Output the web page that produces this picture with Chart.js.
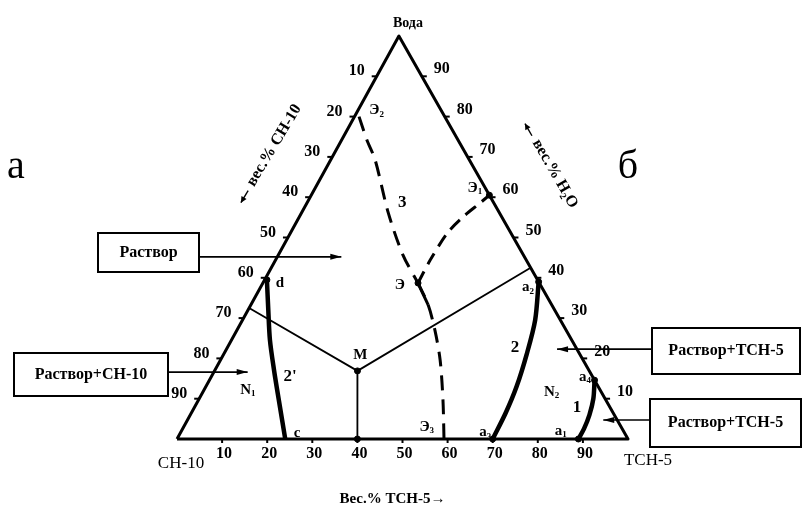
<!DOCTYPE html>
<html>
<head>
<meta charset="utf-8">
<script src="https://cdn.jsdelivr.net/npm/chart.js@4.4.1/dist/chart.umd.min.js"></script>
<style>
  html, body { margin: 0; padding: 0; background: #fff; }
  canvas { display: block; }
</style>
</head>
<body>
<canvas id="chart" width="803" height="510"></canvas>
<script>
// where the water corner sits over the base (% of the base length)
const APEX = 49.2

const tickValues = [10, 20, 30, 40, 50, 60, 70, 80, 90]

// compositions, wt.%: T = ТСН-5, W = вода, СН-10 is the rest
const cornerT = [0, 100, 0, 0]
const cornerW = [0, 0, 100, 0]

// curve 3, Э2 -> Э (dashed)
const e2eT = [1, 5.6, 9.9, 19.1, 27.6, 34.4]
const e2eW = [80, 74.2, 69.2, 56.3, 45.7, 38.7]
// Э -> Э3 (dashed)
const ee3T = [34.4, 39.3, 43.9, 48.7, 54.2, 59.2]
const ee3W = [38.7, 33.3, 27.0, 19.6, 9.7, 0]
// Э -> Э1 (dashed)
const ee1T = [34.4, 34.3, 34.8, 36.3, 38.4, 39.5]
const ee1W = [38.7, 44.4, 51.1, 55.1, 58.6, 60.5]
// curve 2', d -> c
const dcT = [0.5, 4.5, 8.5, 13.1, 17.8, 24]
const dcW = [39.5, 32, 24.6, 17.1, 9.7, 0]
// curve 2, a2 -> a3
const a2a3T = [61, 64.9, 67.2, 68.9, 69.7, 70]
const a2a3W = [39, 29.5, 21, 13, 6.5, 0]
// curve 1, a4 -> a1
const a4a1T = [85.4, 87.4, 88.5, 89.0, 89.0]
const a4a1W = [14.6, 10, 6, 2.5, 0]
// tie lines through M
const tieT = [0, 31.7, 57.5]
const tieW = [32.5, 16.9, 42.5]
const footT = [31.7, 40]
const footW = [16.9, 0]
// marked points: d, M, Э, Э1, a2, a3, a4, a1, foot of M
const markT = [0.5, 31.7, 34.4, 39.5, 61, 70, 85.4, 89.0, 40]
const markW = [39.5, 16.9, 38.7, 60.5, 39, 0, 14.6, 0, 0]

// point and field labels: text, subscript, T, W
const labelText = ['d', 'M', 'Э', 'Э', 'Э', 'Э', 'c', 'a', 'a', 'a', 'a', '1', '2', "2'", '3', 'N', 'N']
const labelSub  = ['', '', '', '1', '2', '3', '', '2', '3', '4', '1', '', '', '', '', '1', '2']
const labelT = [3.8, 30.4, 30.6, 35.4, 4.1, 53.9, 25.9, 59.3, 67.5, 82.9, 84.1, 84.8, 63.7, 17.5, 21.1, 9.7, 77.3]
const labelW = [38.7, 20.8, 38.2, 62.3, 81.6, 3.0, 1.5, 37.7, 1.7, 15.4, 2.0, 7.9, 22.8, 15.4, 58.6, 12.2, 11.7]

// boxes and the composition each arrow points at
const boxText = ['Раствор', 'Раствор+СН-10', 'Раствор+ТСН-5', 'Раствор+ТСН-5']
const arrowT = [14.2, 7.5, 73.3, 92.2]
const arrowW = [45.2, 16.6, 22.3, 4.7]

function toXY(t, w) {
  return { x: t + w * APEX / 100, y: w }
}
function series(ts, ws) {
  return ts.map((t, i) => toXY(t, ws[i]))
}

function lineSet(data, width, dash, tension) {
  return {
    data: data,
    showLine: true,
    borderColor: '#000',
    backgroundColor: '#000',
    borderWidth: width,
    borderDash: dash || [],
    pointRadius: 0,
    tension: tension || 0,
    fill: false,
    clip: false,
    borderCapStyle: 'butt',
    borderJoinStyle: 'round'
  }
}

function seg(c, x1, y1, x2, y2) {
  c.beginPath()
  c.moveTo(x1, y1)
  c.lineTo(x2, y2)
  c.stroke()
}

function arrow(c, x1, y1, x2, y2, len, half) {
  len = len || 11
  half = half || 3
  seg(c, x1, y1, x2, y2)
  let a = Math.atan2(y2 - y1, x2 - x1)
  c.beginPath()
  c.moveTo(x2, y2)
  c.lineTo(x2 - len * Math.cos(a) + half * Math.sin(a), y2 - len * Math.sin(a) - half * Math.cos(a))
  c.lineTo(x2 - len * Math.cos(a) - half * Math.sin(a), y2 - len * Math.sin(a) + half * Math.cos(a))
  c.closePath()
  c.fill()
}

// text with an optional lowered small subscript, centred at x,y
function subText(c, txt, sub, x, y, size) {
  c.font = 'bold ' + size + 'px "Liberation Serif"'
  let w1 = c.measureText(txt).width
  c.font = 'bold ' + Math.round(size * 0.62) + 'px "Liberation Serif"'
  let w2 = sub ? c.measureText(sub).width : 0
  let x0 = x - (w1 + w2) / 2
  c.textAlign = 'left'
  c.textBaseline = 'middle'
  c.font = 'bold ' + size + 'px "Liberation Serif"'
  c.fillText(txt, x0, y)
  if (sub) {
    c.font = 'bold ' + Math.round(size * 0.62) + 'px "Liberation Serif"'
    c.fillText(sub, x0 + w1, y + size * 0.28)
  }
}

// side title turned along an edge, with a drawn arrow in front
function sideTitle(c, txt, cx, cy, deg) {
  c.save()
  c.translate(cx, cy)
  c.rotate(deg * Math.PI / 180)
  c.font = 'bold 16px "Liberation Serif"'
  c.textAlign = 'left'
  c.textBaseline = 'middle'
  let w = c.measureText(txt).width
  let x0 = -(w + 20) / 2
  c.lineWidth = 1.4
  arrow(c, x0 + 14, 1, x0, 1, 6, 3)
  c.fillText(txt, x0 + 20, 0)
  c.restore()
}

const decor = {
  id: 'decor',
  afterDatasetsDraw(chart) {
    const c = chart.ctx
    const sx = chart.scales.x
    const sy = chart.scales.y
    const P = (t, w) => [sx.getPixelForValue(t + w * APEX / 100), sy.getPixelForValue(w)]
    c.save()
    c.fillStyle = '#000'
    c.strokeStyle = '#000'

    // ticks and tick numbers on the three sides
    c.lineWidth = 2
    c.font = 'bold 16px "Liberation Serif"'
    c.textAlign = 'center'
    c.textBaseline = 'middle'
    tickValues.forEach(v => {
      let p = P(0, 100 - v)
      seg(c, p[0], p[1], p[0] - 5, p[1])
      c.fillText(String(v), p[0] - 20, p[1] - 5)
      p = P(100 - v, v)
      seg(c, p[0], p[1], p[0] + 5, p[1])
      c.fillText(String(v), p[0] + 20, p[1] - 7)
      p = P(v, 0)
      seg(c, p[0], p[1], p[0], p[1] + 4)
      c.fillText(String(v), p[0] + 2, p[1] + 15)
    })

    // corner names
    let p = P(0, 100)
    c.font = 'bold 14px "Liberation Serif"'
    c.fillText('Вода', p[0] + 9, p[1] - 13)
    c.font = '17px "Liberation Serif"'
    p = P(0, 0)
    c.fillText('СН-10', p[0] + 4, p[1] + 25)
    p = P(100, 0)
    c.fillText('ТСН-5', p[0] + 20, p[1] + 22)
    c.font = 'bold 15px "Liberation Serif"'
    c.fillText('Вес.% ТСН-5→', (sx.left + sx.right) / 2 - 10, p[1] + 60)

    // side titles along the edges
    sideTitle(c, 'вес.% СН-10', 269, 154, -59)
    sideTitle(c, 'вес.% H₂O', 550, 165, 60)

    // panel letters
    c.font = '40px "Liberation Serif"'
    c.textAlign = 'center'
    c.textBaseline = 'alphabetic'
    c.fillText('а', 16, 178)
    c.fillText('б', 628, 178)

    // point and field labels
    labelText.forEach((txt, i) => {
      let q = P(labelT[i], labelW[i])
      let big = /^[0-9]/.test(txt) ? 17 : 15
      subText(c, txt, labelSub[i], q[0], q[1], big)
    })

    // boxes with arrows
    const boxes = [[98, 233, 101, 39], [14, 353, 154, 43], [652, 328, 148, 46], [650, 399, 151, 48]]
    boxes.forEach((b, i) => {
      c.lineWidth = 2
      c.strokeRect(b[0], b[1], b[2], b[3])
      c.font = 'bold 16px "Liberation Serif"'
      c.textAlign = 'center'
      c.textBaseline = 'middle'
      c.fillText(boxText[i], b[0] + b[2] / 2, b[1] + b[3] / 2)
      let tip = P(arrowT[i], arrowW[i])
      let fromX = tip[0] > b[0] ? b[0] + b[2] : b[0]
      c.lineWidth = 1.6
      arrow(c, fromX, tip[1], tip[0], tip[1])
    })
    c.restore()
  }
}

new Chart(document.getElementById('chart'), {
  type: 'scatter',
  data: {
    datasets: [
      lineSet(series(cornerT, cornerW), 3),
      lineSet(series(e2eT, e2eW), 3, [15, 9], 0.3),
      lineSet(series(ee3T, ee3W), 3, [15, 9], 0.3),
      lineSet(series(ee1T, ee1W), 3, [13, 8], 0.3),
      lineSet(series([ee3T[0], ee3T[1]], [ee3W[0], ee3W[1]]), 3),
      lineSet(series(dcT, dcW), 4.5, [], 0.3),
      lineSet(series(a2a3T, a2a3W), 4.5, [], 0.3),
      lineSet(series(a4a1T, a4a1W), 4.5, [], 0.3),
      lineSet(series(tieT, tieW), 1.8),
      lineSet(series(footT, footW), 1.8),
      {
        data: series(markT, markW),
        showLine: false,
        pointRadius: 3,
        pointBackgroundColor: '#000',
        pointBorderColor: '#000',
        clip: false
      }
    ]
  },
  options: {
    responsive: false,
    animation: false,
    devicePixelRatio: 1,
    layout: { padding: { left: 177, right: 175, top: 36, bottom: 71 } },
    plugins: { legend: { display: false }, tooltip: { enabled: false } },
    scales: {
      x: { type: 'linear', min: 0, max: 100, display: false },
      y: { type: 'linear', min: 0, max: 100, display: false }
    }
  },
  plugins: [decor]
})
</script>
</body>
</html>
